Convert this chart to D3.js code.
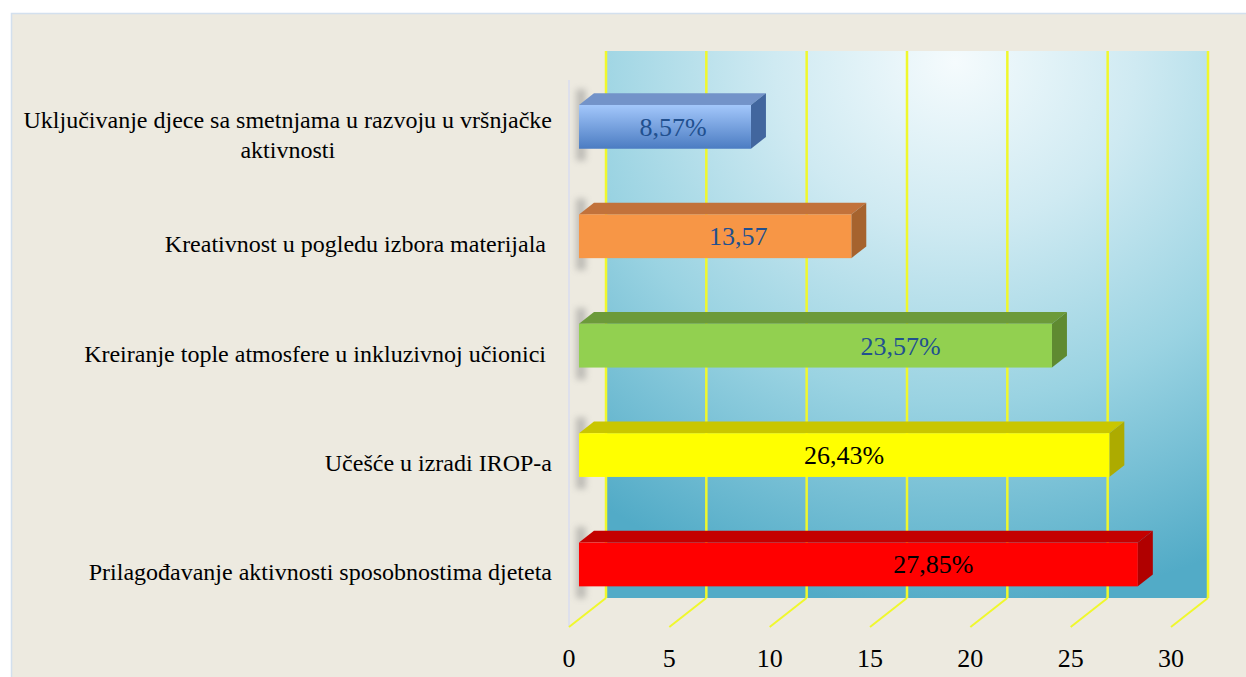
<!DOCTYPE html>
<html>
<head>
<meta charset="utf-8">
<script src="https://cdn.jsdelivr.net/npm/d3@7"></script>
<style>
  body { margin: 0; background: #fff; }
  svg { display: block; }
</style>
</head>
<body>
<div id="chart"></div>
<script>
// chart data
const categories = [
    "Uključivanje djece sa smetnjama u razvoju u vršnjačke aktivnosti",
    "Kreativnost u pogledu izbora materijala ",
    "Kreiranje tople atmosfere u inkluzivnoj učionici ",
    "Učešće u izradi IROP-a",
    "Prilagođavanje aktivnosti sposobnostima djeteta"
];
const values = [8.57, 13.57, 23.57, 26.43, 27.85];
const valueLabels = ["8,57%", "13,57", "23,57%", "26,43%", "27,85%"];
const xTicks = [0, 5, 10, 15, 20, 25, 30];

const width = 1246, height = 677;

// 3d projection: depth offset of the back wall
const DX = 37, DY = -29;
const D0 = 0.27, D1 = 0.675;   // bar front / back depth

const colors = [
    { front: "url(#blueFront)", top: "#7393c9", side: "#42669e", text: "#21508f" },
    { front: "#f79646", top: "#c2723b", side: "#a6632e", text: "#21508f" },
    { front: "#92d050", top: "#6c9a3a", side: "#5f8a31", text: "#21508f" },
    { front: "#ffff00", top: "#c9c600", side: "#adab00", text: "#000" },
    { front: "#ff0000", top: "#c40000", side: "#b00000", text: "#000" }
];
// manual label nudges (px from bar centre), as in the original
const labelNudge = [8, 23, 85, 0, 75];

const svg = d3.select("#chart")
    .append("svg")
    .attr("width", width)
    .attr("height", height);

const defs = svg.append("defs");

const wallGrad = defs.append("radialGradient")
    .attr("id", "wallGrad")
    .attr("cx", 0.58).attr("cy", 0.02).attr("r", 1.0)
    .attr("fx", 0.58).attr("fy", 0.02);
[[0, "#f5fbfd"], [0.3, "#cfeaf2"], [0.62, "#9ad3e2"], [1, "#52abc7"]].forEach(s =>
    wallGrad.append("stop").attr("offset", s[0]).attr("stop-color", s[1]));

const blueFront = defs.append("linearGradient")
    .attr("id", "blueFront")
    .attr("x1", 0).attr("y1", 0).attr("x2", 0).attr("y2", 1);
blueFront.append("stop").attr("offset", 0).attr("stop-color", "#a3c7fb");
blueFront.append("stop").attr("offset", 1).attr("stop-color", "#4b7cc2");

defs.append("filter")
    .attr("id", "blur")
    .attr("x", "-100%").attr("y", "-50%").attr("width", "300%").attr("height", "200%")
    .append("feGaussianBlur").attr("stdDeviation", 3);

// chart area background
svg.append("rect")
    .attr("x", 11.5).attr("y", 13.5)
    .attr("width", width).attr("height", height)
    .attr("fill", "#edeae0")
    .attr("stroke", "#d3e0ee")
    .attr("stroke-width", 1.5);

// scales (front plane)
const x = d3.scaleLinear().domain([0, 30]).range([569, 1171]);
const y = d3.scaleBand()
    .domain(d3.range(categories.length))
    .range([80, 627])
    .paddingInner(0.6)
    .paddingOuter(0.3);

const P = (px, py, d) => [px + d * DX, py + d * DY];

// back wall
svg.append("rect")
    .attr("x", x(0) + DX).attr("y", 80 + DY)
    .attr("width", x(30) - x(0)).attr("height", 627 - 80)
    .attr("fill", "url(#wallGrad)");

// left side wall edge
svg.append("line")
    .attr("x1", x(0)).attr("x2", x(0))
    .attr("y1", 80).attr("y2", 627)
    .attr("stroke", "#d8dcf0").attr("stroke-width", 1.5);

// gridlines on wall + floor
const grid = svg.append("g")
    .attr("stroke", "#f0f82c")
    .attr("stroke-width", 2.5);
grid.selectAll(".wall")
    .data(xTicks)
    .join("line")
    .attr("class", "wall")
    .attr("x1", d => x(d) + DX).attr("x2", d => x(d) + DX)
    .attr("y1", 80 + DY).attr("y2", 627 + DY);
grid.selectAll(".floor")
    .data(xTicks)
    .join("line")
    .attr("class", "floor")
    .attr("stroke-width", 2)
    .attr("x1", d => x(d)).attr("y1", 627)
    .attr("x2", d => x(d) + DX).attr("y2", 627 + DY);

// bars
const bars = svg.append("g")
    .selectAll("g")
    .data(values)
    .join("g");

const pts = arr => arr.map(p => p.join(",")).join(" ");

// soft shadow at the start of every bar
bars.append("rect")
    .attr("x", x(0) + D0 * DX - 3)
    .attr("y", (d, i) => y(i) + D1 * DY - 4)
    .attr("width", 10)
    .attr("height", (d, i) => y.bandwidth() - (D1 - D0) * DY + 16)
    .attr("fill", "#7a7a7a")
    .attr("opacity", 0.4)
    .attr("filter", "url(#blur)");

// top face
bars.append("polygon")
    .attr("points", (d, i) => {
        const t = y(i);
        return pts([P(x(0), t, D0), P(x(d), t, D0), P(x(d), t, D1), P(x(0), t, D1)]);
    })
    .attr("fill", (d, i) => colors[i].top);

// side face
bars.append("polygon")
    .attr("points", (d, i) => {
        const t = y(i), b = y(i) + y.bandwidth();
        return pts([P(x(d), t, D0), P(x(d), t, D1), P(x(d), b, D1), P(x(d), b, D0)]);
    })
    .attr("fill", (d, i) => colors[i].side);

// front face
bars.append("rect")
    .attr("x", x(0) + D0 * DX)
    .attr("y", (d, i) => y(i) + D0 * DY)
    .attr("width", d => x(d) - x(0))
    .attr("height", y.bandwidth())
    .attr("fill", (d, i) => colors[i].front);

// value labels
bars.append("text")
    .attr("x", (d, i) => (x(0) + x(d)) / 2 + D0 * DX + labelNudge[i])
    .attr("y", (d, i) => y(i) + D0 * DY + y.bandwidth() / 2 + 9)
    .attr("text-anchor", "middle")
    .attr("font-family", "'Liberation Serif', 'Times New Roman', serif")
    .attr("font-size", 26)
    .attr("fill", (d, i) => colors[i].text)
    .text((d, i) => valueLabels[i]);

// x axis tick labels
svg.append("g")
    .selectAll("text")
    .data(xTicks)
    .join("text")
    .attr("x", d => x(d))
    .attr("y", 667)
    .attr("text-anchor", "middle")
    .attr("font-family", "'Liberation Serif', 'Times New Roman', serif")
    .attr("font-size", 26)
    .attr("fill", "#000")
    .text(d => d);

// category labels, wrapped and right aligned as a block
const LABEL_RIGHT = 552, LABEL_MAX = 540, LINE_H = 30;
const catG = svg.append("g")
    .attr("font-family", "'Liberation Serif', 'Times New Roman', serif")
    .attr("font-size", 24)
    .attr("fill", "#000");

categories.forEach((name, i) => {
    const probe = catG.append("text").style("white-space", "pre");
    const words = name.split(" ");
    const lines = [];
    let cur = "";
    words.forEach(w => {
        const test = cur ? cur + " " + w : w;
        probe.text(test);
        if (probe.node().getComputedTextLength() > LABEL_MAX && cur) {
            lines.push(cur);
            cur = w;
        } else cur = test;
    });
    lines.push(cur);
    const widths = lines.map(l => { probe.text(l); return probe.node().getComputedTextLength(); });
    probe.remove();
    const blockW = d3.max(widths);
    const cx = LABEL_RIGHT - blockW / 2;
    const cy = y(i) + y.bandwidth() / 2;
    const y0 = cy - (lines.length - 1) * LINE_H / 2 + 8;
    catG.append("text")
        .style("white-space", "pre")
        .attr("text-anchor", "middle")
        .selectAll("tspan")
        .data(lines)
        .join("tspan")
        .attr("x", cx)
        .attr("y", (l, j) => y0 + j * LINE_H)
        .text(l => l);
});
</script>
</body>
</html>
